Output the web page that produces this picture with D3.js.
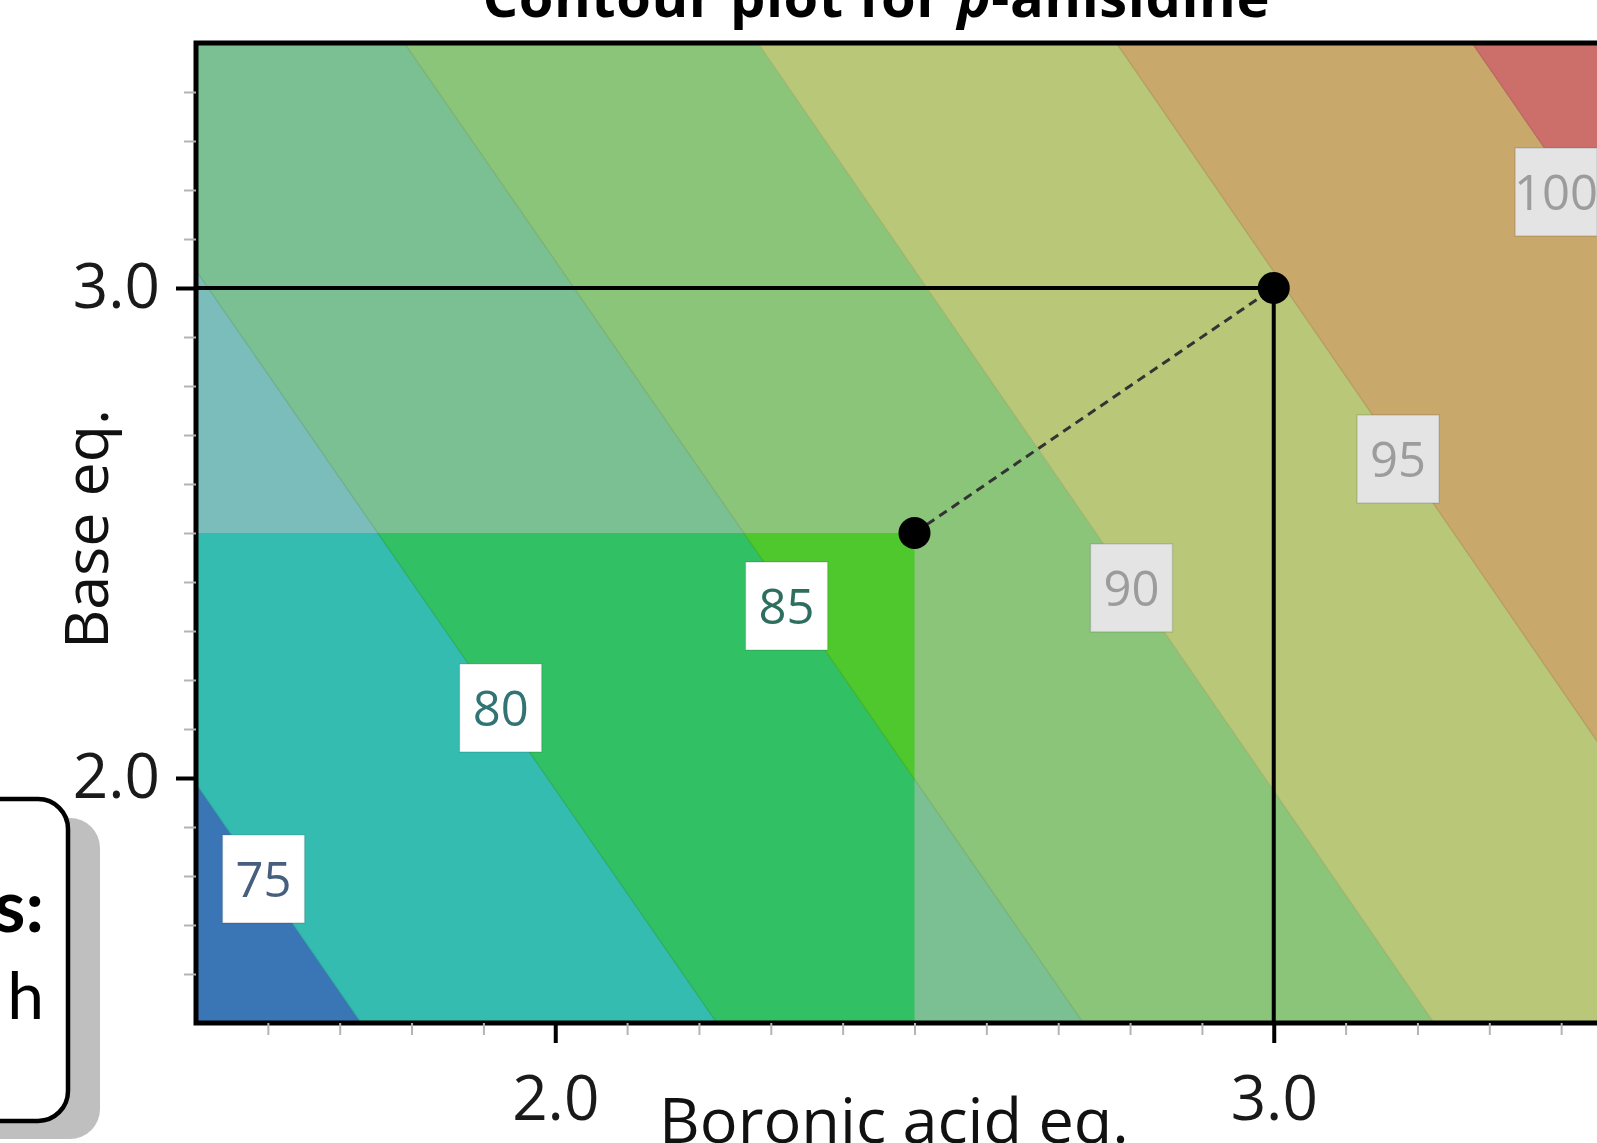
<!DOCTYPE html>
<html>
<head>
<meta charset="utf-8">
<script src="https://cdnjs.cloudflare.com/ajax/libs/d3/7.8.5/d3.min.js"></script>
<style>
  body { margin: 0; background: #fff; overflow: hidden; }
  svg { display: block; }
</style>
</head>
<body>
<div id="chart"></div>
<script>
// contour levels, and where each contour line meets the bottom (base 1.5) and top (base 3.5) of the plot
var levels = [75, 80, 85, 90, 95, 100];
var lineXAtBottom = [1.73, 2.225, 2.735, 3.223, 3.72, 4.216];
var lineXAtTop = [0.789, 1.281, 1.79, 2.282, 2.781, 3.276];
// where each level label sits (boronic acid eq., base eq.)
var labelX = [1.594, 1.924, 2.322, 2.802, 3.173, 3.393];
var labelY = [1.794, 2.143, 2.351, 2.388, 2.651, 3.196];

// design space drawn at full colour
var designX = [1.5, 2.5];
var designY = [1.5, 2.5];

// the two conditions joined by the dashed line
var pointX = [2.5, 3.0];
var pointY = [2.5, 3.0];

var xTicks = [2.0, 3.0];
var yTicks = [2.0, 3.0];
var xDomain = [1.5, 3.5];
var yDomain = [1.5, 3.5];

// band colours, below 75 ... above 100
var bandColors = ["#3a76b6", "#34bcb0", "#32c064", "#4ec82c", "#b9c878", "#c9a86c", "#cc6e6a"];
var fadedColors = ["#74a0c4", "#7abdba", "#7bc093", "#8bc57a", "#b9c878", "#c9a86c", "#cc6e6a"];
var labelFill = ["#ffffff", "#ffffff", "#ffffff", "#e4e4e4", "#e4e4e4", "#e4e4e4"];
var labelInk = ["#465f7d", "#327373", "#2d6e5f", "#9c9c9c", "#9c9c9c", "#9c9c9c"];

var width = 1597, height = 1143;

var x = d3.scaleLinear().domain(xDomain).range([196, 196 + 2 * 718.5]);
var y = d3.scaleLinear().domain(yDomain).range([1023, 43]);

var svg = d3.select("#chart").append("svg")
    .attr("width", width)
    .attr("height", height);

var defs = svg.append("defs");
defs.append("clipPath").attr("id", "plotClip")
    .append("rect")
    .attr("x", x(xDomain[0])).attr("y", y(yDomain[1]))
    .attr("width", x(xDomain[1]) - x(xDomain[0]))
    .attr("height", y(yDomain[0]) - y(yDomain[1]));
defs.append("clipPath").attr("id", "designClip")
    .append("rect")
    .attr("x", x(designX[0])).attr("y", y(designY[1]))
    .attr("width", x(designX[1]) - x(designX[0]))
    .attr("height", y(designY[0]) - y(designY[1]));

// band polygons between neighbouring contour lines
var bands = d3.range(levels.length + 1).map(function (i) {
    var lb = i === 0 ? -2 : lineXAtBottom[i - 1],
        lt = i === 0 ? -2 : lineXAtTop[i - 1],
        rb = i === levels.length ? 7 : lineXAtBottom[i],
        rt = i === levels.length ? 7 : lineXAtTop[i];
    return [[lb, yDomain[0]], [rb, yDomain[0]], [rt, yDomain[1]], [lt, yDomain[1]]];
});

var poly = d3.line()
    .x(function (d) { return x(d[0]); })
    .y(function (d) { return y(d[1]); });

var plot = svg.append("g").attr("clip-path", "url(#plotClip)");

plot.append("g").selectAll("path")
    .data(bands)
    .enter().append("path")
    .attr("d", function (d) { return poly(d) + "Z"; })
    .attr("fill", function (d, i) { return fadedColors[i]; })
    .attr("stroke", function (d, i) { return fadedColors[i]; })
    .attr("stroke-width", 1);

plot.append("g").attr("clip-path", "url(#designClip)")
    .selectAll("path")
    .data(bands)
    .enter().append("path")
    .attr("d", function (d) { return poly(d) + "Z"; })
    .attr("fill", function (d, i) { return bandColors[i]; })
    .attr("stroke", function (d, i) { return bandColors[i]; })
    .attr("stroke-width", 1);

// faint contour lines
plot.append("g").selectAll("line")
    .data(levels)
    .enter().append("line")
    .attr("x1", function (d, i) { return x(lineXAtBottom[i]); })
    .attr("y1", y(yDomain[0]))
    .attr("x2", function (d, i) { return x(lineXAtTop[i]); })
    .attr("y2", y(yDomain[1]))
    .attr("stroke", "rgba(0,0,0,0.08)")
    .attr("stroke-width", 1.5);

// lines from the optimum to the axes
plot.append("path")
    .attr("d", poly([[xDomain[0], pointY[1]], [pointX[1], pointY[1]], [pointX[1], yDomain[0]]]))
    .attr("fill", "none")
    .attr("stroke", "#000")
    .attr("stroke-width", 4);

// dashed step between the two points
plot.append("path")
    .attr("d", poly(pointX.map(function (d, i) { return [d, pointY[i]]; })))
    .attr("fill", "none")
    .attr("stroke", "#333")
    .attr("stroke-width", 3)
    .attr("stroke-dasharray", "9,6");

plot.selectAll("circle")
    .data(pointX)
    .enter().append("circle")
    .attr("cx", function (d) { return x(d); })
    .attr("cy", function (d, i) { return y(pointY[i]); })
    .attr("r", 16)
    .attr("fill", "#000");

// contour labels
var labels = plot.append("g").selectAll("g")
    .data(levels)
    .enter().append("g")
    .attr("transform", function (d, i) {
        return "translate(" + x(labelX[i]) + "," + y(labelY[i]) + ")";
    });

labels.append("rect")
    .attr("x", -41).attr("y", -44)
    .attr("width", 82).attr("height", 88)
    .attr("fill", function (d, i) { return labelFill[i]; })
    .attr("stroke", "rgba(0,0,0,0.12)")
    .attr("stroke-width", 1.5);

labels.append("text")
    .attr("text-anchor", "middle")
    .attr("dy", "0.36em")
    .style("font-family", "'Open Sans', sans-serif")
    .style("font-size", "49px")
    .attr("fill", function (d, i) { return labelInk[i]; })
    .text(function (d) { return d; });

// plot frame
svg.append("rect")
    .attr("x", x(xDomain[0])).attr("y", y(yDomain[1]))
    .attr("width", x(xDomain[1]) - x(xDomain[0]))
    .attr("height", y(yDomain[0]) - y(yDomain[1]))
    .attr("fill", "none")
    .attr("stroke", "#000")
    .attr("stroke-width", 5);

// minor ticks every 0.1
var minor = d3.range(16, 35).map(function (d) { return d / 10; });

svg.append("g")
    .attr("class", "minor")
    .attr("transform", "translate(0," + y(yDomain[0]) + ")")
    .call(d3.axisBottom(x).tickValues(minor).tickSize(12).tickFormat(""));
svg.append("g")
    .attr("class", "minor")
    .attr("transform", "translate(" + x(xDomain[0]) + ",0)")
    .call(d3.axisLeft(y).tickValues(minor).tickSize(12).tickFormat(""));

svg.append("g")
    .attr("class", "major")
    .attr("transform", "translate(0," + y(yDomain[0]) + ")")
    .call(d3.axisBottom(x).tickValues(xTicks).tickSize(20).tickPadding(33).tickFormat(d3.format(".1f")));
svg.append("g")
    .attr("class", "major")
    .attr("transform", "translate(" + x(xDomain[0]) + ",0)")
    .call(d3.axisLeft(y).tickValues(yTicks).tickSize(20).tickPadding(16).tickFormat(d3.format(".1f")));

svg.selectAll(".domain").remove();
svg.selectAll(".minor line").attr("stroke", "#b4b4b4").attr("stroke-width", 2);
svg.selectAll(".major line").attr("stroke", "#000").attr("stroke-width", 4);
svg.selectAll(".major text")
    .attr("fill", "#1a1a1a")
    .style("font-family", "'Open Sans', sans-serif")
    .style("font-size", "62px");

// axis titles
svg.append("text")
    .attr("x", 894).attr("y", 1143)
    .attr("text-anchor", "middle")
    .style("font-family", "'Open Sans', sans-serif")
    .style("font-size", "63px")
    .attr("fill", "#111")
    .text("Boronic acid eq.");

svg.append("text")
    .attr("transform", "translate(108,529) rotate(-90)")
    .attr("text-anchor", "middle")
    .style("font-family", "'Open Sans', sans-serif")
    .style("font-size", "61px")
    .attr("fill", "#111")
    .text("Base eq.");

// chart title, mostly cut off by the top edge
var title = svg.append("text")
    .attr("x", 876).attr("y", 17)
    .attr("text-anchor", "middle")
    .attr("textLength", 787)
    .style("font-family", "'Open Sans', sans-serif")
    .style("font-size", "56px")
    .style("font-weight", "bold")
    .attr("fill", "#000");
title.append("tspan").text("Contour plot for ");
title.append("tspan").style("font-style", "italic").text("p");
title.append("tspan").text("-anisidine");

// callout box on the left edge
svg.append("rect")
    .attr("x", -80).attr("y", 818)
    .attr("width", 180).attr("height", 321)
    .attr("rx", 30)
    .attr("fill", "#bfbfbf");
svg.append("rect")
    .attr("x", -80).attr("y", 799)
    .attr("width", 148).attr("height", 322)
    .attr("rx", 30)
    .attr("fill", "#fff")
    .attr("stroke", "#000")
    .attr("stroke-width", 4.5);
svg.append("text")
    .attr("x", 44).attr("y", 932)
    .attr("text-anchor", "end")
    .style("font-family", "Lato, sans-serif")
    .style("font-size", "72px")
    .style("font-weight", "bold")
    .attr("fill", "#000")
    .text("s:");
svg.append("text")
    .attr("x", 44).attr("y", 1019)
    .attr("text-anchor", "end")
    .style("font-family", "Lato, sans-serif")
    .style("font-size", "66px")
    .attr("fill", "#000")
    .text("h");
</script>
</body>
</html>
